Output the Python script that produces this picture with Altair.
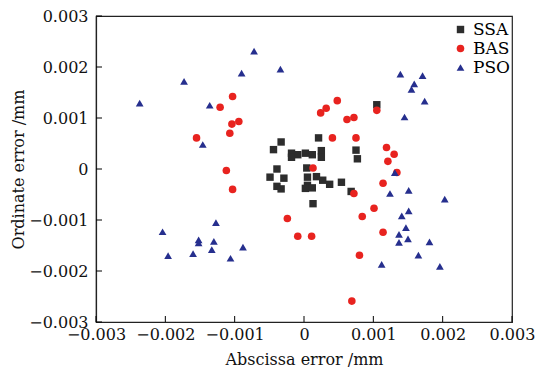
import altair as alt
import pandas as pd

# values in units of 0.001 mm
ssa_x = [-0.33, -0.44, 0.21, -0.18, -0.18, -0.09, 0.02, 0.12, 0.25, 0.25, 0.75, 0.77,
         -0.39, -0.49, -0.29, -0.39, -0.33, 0.04, 0.05, 0.05, 0.02, 0.12, 0.18, 0.27,
         0.37, 0.54, 0.68, 0.13, 1.05]
ssa_y = [0.53, 0.38, 0.61, 0.31, 0.23, 0.28, 0.31, 0.28, 0.36, 0.23, 0.37, 0.20,
         0.00, -0.16, -0.18, -0.34, -0.39, 0.02, -0.16, -0.32, -0.38, -0.37, -0.15, -0.22,
         -0.30, -0.26, -0.44, -0.68, 1.26]

bas_x = [-1.03, -1.21, -0.94, -1.04, -1.07, -1.55, -1.12, -1.03, -0.24, -0.09, 0.11,
         0.48, 0.32, 0.24, 0.72, 0.62, 1.05, 0.41, 0.75, 1.19, 1.30, 1.21, 1.34, 1.14,
         0.13, 0.72, 1.01, 0.84, 1.14, 0.80, 0.69]
bas_y = [1.42, 1.21, 0.93, 0.88, 0.70, 0.61, -0.03, -0.40, -0.97, -1.32, -1.32,
         1.34, 1.19, 1.10, 1.01, 0.97, 1.15, 0.61, 0.61, 0.42, 0.29, 0.15, -0.07, -0.28,
         0.02, -0.48, -0.77, -0.93, -1.24, -1.69, -2.59]

pso_x = [-2.37, -1.73, -0.72, -0.90, -0.34, -1.36, -1.46, 1.39, 1.71, 1.59, 1.55, 1.74,
         1.45, 1.31, 1.24, 1.51, 2.03, 1.51, 1.41, 1.47, 1.37, 1.50, 1.37, 1.81, 1.65,
         1.12, 1.96, -2.04, -1.27, -1.52, -1.52, -1.30, -1.33, -1.60, -1.96, -1.06, -0.88]
pso_y = [1.29, 1.72, 2.31, 1.88, 1.96, 1.25, 0.48, 1.86, 1.83, 1.67, 1.56, 1.33,
         1.02, -0.07, -0.48, -0.42, -0.59, -0.82, -0.92, -1.15, -1.28, -1.37, -1.44, -1.43, -1.69,
         -1.87, -1.91, -1.23, -1.05, -1.39, -1.45, -1.42, -1.58, -1.66, -1.70, -1.75, -1.53]

series = ["SSA", "BAS", "PSO"]
colors = ["#2d2d2d", "#e8231f", "#262f8e"]
shapes = ["square", "circle", "triangle-up"]
sizes = [55, 60, 80]
ticks = [-0.003, -0.002, -0.001, 0, 0.001, 0.002, 0.003]

rows = []
for name, xs, ys in [("SSA", ssa_x, ssa_y), ("BAS", bas_x, bas_y), ("PSO", pso_x, pso_y)]:
    for a, b in zip(xs, ys):
        rows.append({"x": a / 1000, "y": b / 1000, "alg": name})
df = pd.DataFrame(rows)
tdf = pd.DataFrame({"x": ticks, "y": ticks})

W, H = 416, 306
FONT = "DejaVu Serif"
label_expr = "datum.value == 0 ? '0' : format(datum.value, '.3f')"

xaxis = alt.Axis(title="Abscissa error /mm", values=ticks, tickSize=0, labelExpr=label_expr,
                 grid=False, labelPadding=4, titlePadding=9, labelOverlap=False,
                 labelFlush=False, labelBound=False)
yaxis = alt.Axis(title="Ordinate error /mm", values=ticks, tickSize=0, labelExpr=label_expr,
                 grid=False, labelPadding=8, titlePadding=2, labelOverlap=False,
                 labelFlush=False, labelBound=False)
xs_ = alt.Scale(domain=[-0.003, 0.003], nice=False, zero=False)
ys_ = alt.Scale(domain=[-0.003, 0.003], nice=False, zero=False)

pts = alt.Chart(df).mark_point(filled=True, opacity=1).encode(
    x=alt.X("x:Q", scale=xs_, axis=xaxis),
    y=alt.Y("y:Q", scale=ys_, axis=yaxis),
    color=alt.Color("alg:N", scale=alt.Scale(domain=series, range=colors),
                    legend=alt.Legend(title=None, orient="none", legendX=356, legendY=5,
                                      labelFont=FONT, labelFontSize=17,
                                      rowPadding=1, labelOffset=4, padding=0,
                                      symbolStrokeWidth=0)),
    shape=alt.Shape("alg:N", scale=alt.Scale(domain=series, range=shapes)),
    size=alt.Size("alg:N", scale=alt.Scale(domain=series, range=sizes), legend=None),
    order=alt.Order("ord:Q"),
).transform_calculate(ord="datum.alg == 'SSA' ? 0 : (datum.alg == 'BAS' ? 1 : 2)")

xt = alt.Chart(tdf).mark_rule(color="black", strokeWidth=1).encode(
    x=alt.X("x:Q", scale=xs_, axis=xaxis), y=alt.value(H), y2=alt.value(H - 6))
yt = alt.Chart(tdf).mark_rule(color="black", strokeWidth=1).encode(
    y=alt.Y("y:Q", scale=ys_, axis=yaxis), x=alt.value(0), x2=alt.value(6))

chart = alt.layer(xt, yt, pts).properties(
    width=W, height=H,
    autosize=alt.AutoSizeParams(type="none"),
    padding={"left": 88, "top": 8, "right": 23, "bottom": 49},
).configure_view(stroke="#222222", strokeWidth=1.2).configure_axis(
    labelFont=FONT, labelFontSize=16, titleFont=FONT, titleFontSize=16,
    titleFontWeight="normal", labelColor="#111111", titleColor="#111111",
    domainColor="#222222", domainWidth=1.2,
)

chart.save("out.html", embed_options={"renderer": "svg", "actions": False})
